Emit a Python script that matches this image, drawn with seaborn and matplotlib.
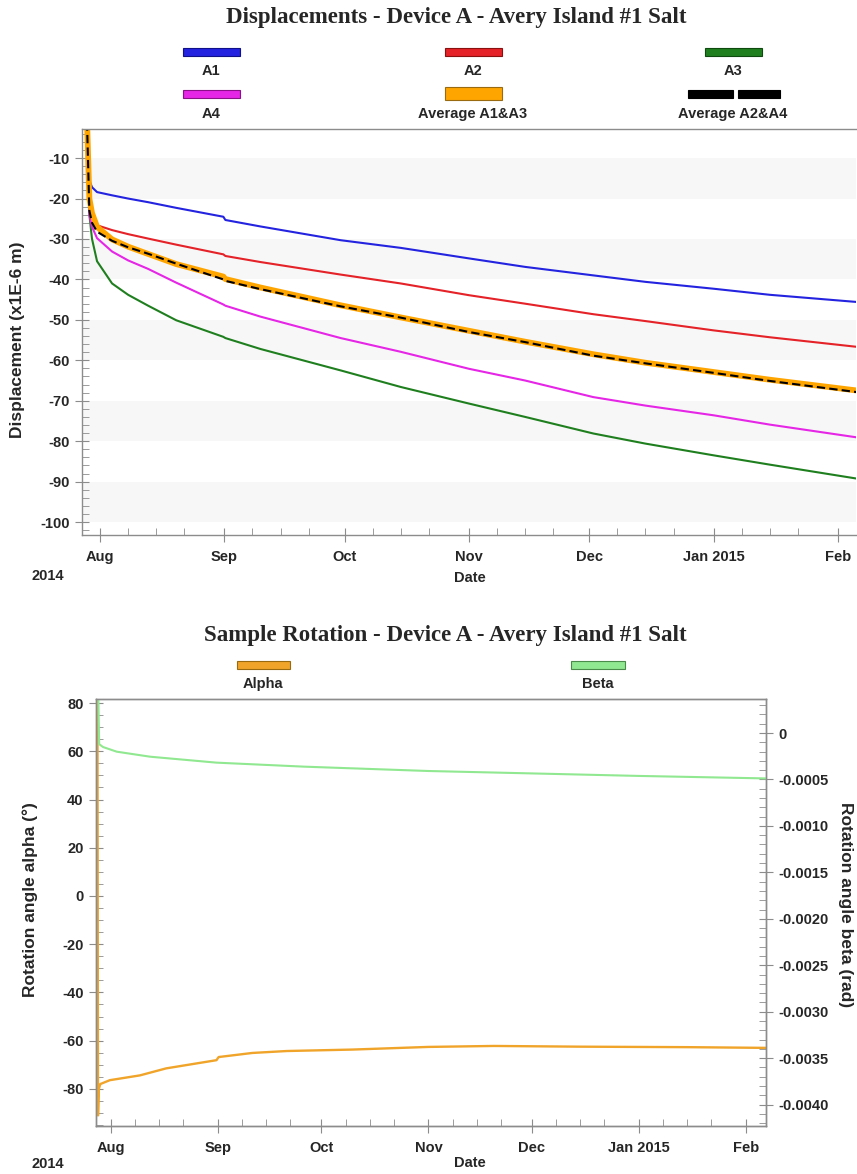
import pandas as pd
import matplotlib.pyplot as plt
import matplotlib.dates as mdates
from matplotlib.ticker import MultipleLocator, FuncFormatter
from matplotlib.patches import Rectangle
import seaborn as sns

# ---- data: displacements (x1E-6 m) ----
t_disp = pd.to_datetime([
    "2014-07-28 14:00", "2014-07-29 08:00", "2014-07-30 00:00", "2014-07-31 06:00",
    "2014-08-04 00:00", "2014-08-08 00:00", "2014-08-13 00:00", "2014-08-20 00:00",
    "2014-08-31 18:00", "2014-09-01 06:00", "2014-09-10 00:00", "2014-09-30 00:00",
    "2014-10-15 00:00", "2014-11-01 00:00", "2014-11-15 00:00", "2014-12-02 00:00",
    "2014-12-15 00:00", "2015-01-01 00:00", "2015-01-15 00:00", "2015-02-06 00:00",
], format='ISO8601')
a1 = [5, -15.5, -17.2, -18.4, -19.2, -20.0, -20.9, -22.3, -24.5, -25.3,
      -26.9, -30.3, -32.2, -34.8, -36.9, -39.0, -40.6, -42.3, -43.8, -45.6]
a2 = [5, -22.0, -25.0, -26.6, -27.8, -28.8, -29.9, -31.4, -33.8, -34.2,
      -35.7, -38.8, -41.0, -43.9, -46.0, -48.6, -50.3, -52.6, -54.3, -56.7]
a3 = [5, -24.0, -30.0, -35.5, -41.0, -43.8, -46.5, -50.1, -54.2, -54.5,
      -57.2, -62.5, -66.6, -70.7, -74.0, -78.1, -80.6, -83.5, -85.8, -89.3]
a4 = [5, -24.0, -27.0, -29.8, -33.1, -35.3, -37.4, -40.8, -46.2, -46.5,
      -49.2, -54.5, -57.9, -62.1, -65.0, -69.1, -71.2, -73.6, -75.9, -79.1]
avg13 = [5, -20.0, -23.6, -27.0, -30.1, -31.9, -33.7, -36.2, -39.3, -39.9,
         -42.0, -46.4, -49.4, -52.7, -55.4, -58.5, -60.6, -62.9, -64.8, -67.5]
avg24 = [5, -23.0, -26.0, -28.2, -30.45, -32.05, -33.65, -36.1, -40.0, -40.35,
         -42.4, -46.65, -49.45, -53.0, -55.5, -58.85, -60.75, -63.1, -65.1, -67.9]

# ---- data: rotation ----
t_alpha = pd.to_datetime([
    "2014-07-28 02:00", "2014-07-28 06:00", "2014-07-28 12:00", "2014-07-28 22:00",
    "2014-07-31 16:00", "2014-08-09 10:00", "2014-08-17 00:00", "2014-08-31 14:00",
    "2014-09-01 05:00", "2014-09-11 00:00", "2014-09-21 00:00", "2014-10-10 00:00",
    "2014-11-01 00:00", "2014-11-20 00:00", "2014-12-15 00:00", "2015-01-15 00:00",
    "2015-02-07 00:00",
], format='ISO8601')
alpha = [85, -91, -80, -78, -76.4, -74.4, -71.5, -68.1, -66.8, -65.1,
         -64.3, -63.7, -62.6, -62.2, -62.5, -62.7, -63.0]

t_beta = pd.to_datetime([
    "2014-07-28 07:00", "2014-07-28 14:00", "2014-07-29 17:00", "2014-08-02 16:00",
    "2014-08-12 08:00", "2014-08-31 14:00", "2014-09-25 20:00", "2014-11-01 00:00",
    "2014-12-01 00:00", "2015-01-01 00:00", "2015-02-07 00:00",
], format='ISO8601')
beta = [0.0005, -0.00012, -0.000151, -0.000201, -0.000255, -0.000319,
        -0.000362, -0.000409, -0.000435, -0.000462, -0.000489]

c_a1, c_a2, c_a3, c_a4 = "#2424e0", "#e42228", "#1f7f1f", "#e626e6"
c_avg = "#ffa500"
c_alpha, c_beta = "#f0a42a", "#90e890"
grey = "#8c8c8c"

sns.set_style("ticks")
plt.rcParams['font.family'] = ['Liberation Sans', 'DejaVu Sans']
plt.rcParams['font.weight'] = 'bold'
plt.rcParams['axes.unicode_minus'] = False

W, H = 857, 1174
fig = plt.figure(figsize=(W / 100, H / 100), dpi=100)


def fx(px):
    return px / W


def fy(py):
    return 1 - py / H


def style_axes(ax):
    for s in ax.spines.values():
        s.set_color(grey)
        s.set_linewidth(1)
    ax.tick_params(which='major', direction='inout', length=10, color=grey,
                   labelsize=10.5, pad=4)
    ax.tick_params(axis='x', which='major', pad=6)
    ax.tick_params(which='minor', direction='in', length=5, color=grey)
    ax.xaxis.set_major_locator(mdates.MonthLocator())
    ax.xaxis.set_minor_locator(mdates.DayLocator(bymonthday=[8, 15, 22]))

    def fmt(x, pos):
        d = mdates.num2date(x)
        return d.strftime('%b %Y') if d.month == 1 else d.strftime('%b')
    ax.xaxis.set_major_formatter(FuncFormatter(fmt))
    for lab in ax.get_xticklabels() + ax.get_yticklabels():
        lab.set_fontweight('bold')
    ax.set_xlabel('')
    ax.set_ylabel('')


# ---------------- top chart ----------------
ax1 = fig.add_axes([fx(82), fy(535), fx(856 - 82), (535 - 129) / H])
for lo in [-100, -80, -60, -40, -20]:
    ax1.axhspan(lo, lo + 10, color="#f7f7f7", zorder=0, lw=0)

sns.lineplot(x=t_disp, y=a1, ax=ax1, color=c_a1, lw=1.5)
sns.lineplot(x=t_disp, y=a2, ax=ax1, color=c_a2, lw=1.5)
sns.lineplot(x=t_disp, y=a3, ax=ax1, color=c_a3, lw=1.5)
sns.lineplot(x=t_disp, y=a4, ax=ax1, color=c_a4, lw=1.5)
sns.lineplot(x=t_disp, y=avg13, ax=ax1, color=c_avg, lw=4.2)
sns.lineplot(x=t_disp, y=avg24, ax=ax1, color="black", lw=1.5,
             linestyle=(0, (4, 2)))

ax1.set_xlim(pd.Timestamp("2014-07-27 12:00"), pd.Timestamp("2015-02-05 12:00"))
ax1.set_ylim(-103.2, -2.8)
ax1.set_yticks(range(-100, 0, 10))
ax1.yaxis.set_minor_locator(MultipleLocator(2))
style_axes(ax1)
ax1.spines['right'].set_visible(False)

# ---------------- bottom chart ----------------
ax2 = fig.add_axes([fx(96), fy(1126), fx(766 - 96), (1126 - 699) / H])
ax2r = ax2.twinx()
sns.lineplot(x=t_alpha, y=alpha, ax=ax2, color=c_alpha, lw=1.7)
sns.lineplot(x=t_beta, y=beta, ax=ax2r, color=c_beta, lw=1.5)

ax2.set_xlim(pd.Timestamp("2014-07-27 16:00"), pd.Timestamp("2015-02-06 20:00"))
ax2.set_ylim(-95.4, 81.7)
ax2.set_yticks(range(-80, 81, 20))
ax2.yaxis.set_minor_locator(MultipleLocator(5))
ax2r.set_ylim(-0.00423, 0.000366)
ax2r.set_yticks([-0.004 + 0.0005 * i for i in range(9)])
ax2r.yaxis.set_minor_locator(MultipleLocator(0.0001))
ax2r.yaxis.set_major_formatter(
    FuncFormatter(lambda v, p: "0" if abs(v) < 1e-9 else f"{v:.4f}"))
style_axes(ax2)
style_axes(ax2r)

# ---------------- titles, labels, legends ----------------
title_kw = dict(ha='center', va='center', fontsize=16.5, fontweight='bold',
                family=['Liberation Serif', 'DejaVu Serif'])
fig.text(fx(456), fy(18), "Displacements - Device A - Avery Island #1 Salt", **title_kw)
fig.text(fx(445), fy(635), "Sample Rotation - Device A - Avery Island #1 Salt", **title_kw)

lab_kw = dict(ha='center', va='center', fontsize=10.5, fontweight='bold')
vlab_kw = dict(ha='center', va='center', fontsize=12.5, fontweight='bold')
fig.text(fx(18), fy(340), "Displacement (x1E-6 m)", rotation=90, **vlab_kw)
fig.text(fx(470), fy(578), "Date", **lab_kw)
fig.text(fx(48), fy(576), "2014", **lab_kw)
fig.text(fx(30), fy(900), "Rotation angle alpha (°)", rotation=90, **vlab_kw)
fig.text(fx(845), fy(905), "Rotation angle beta (rad)", rotation=270, **vlab_kw)
fig.text(fx(470), fy(1163), "Date", **lab_kw)
fig.text(fx(48), fy(1164), "2014", **lab_kw)


def swatch(x0, x1, y0, y1, fc, ec):
    fig.add_artist(Rectangle((fx(x0), fy(y1)), fx(x1 - x0), (y1 - y0) / H,
                             transform=fig.transFigure, fc=fc, ec=ec, lw=0.8))


swatch(183, 240, 48, 56, c_a1, "#10108a")
swatch(445, 502, 48, 56, c_a2, "#8a1010")
swatch(705, 762, 48, 56, c_a3, "#0e4a0e")
swatch(183, 240, 90, 98, c_a4, "#8a108a")
swatch(445, 502, 87, 100, c_avg, "#9a6a10")
swatch(688, 733, 90, 98, "black", "black")
swatch(738, 780, 90, 98, "black", "black")
fig.text(fx(211), fy(71), "A1", **lab_kw)
fig.text(fx(473), fy(71), "A2", **lab_kw)
fig.text(fx(733), fy(71), "A3", **lab_kw)
fig.text(fx(211), fy(114), "A4", **lab_kw)
fig.text(fx(473), fy(114), "Average A1&A3", **lab_kw)
fig.text(fx(733), fy(114), "Average A2&A4", **lab_kw)

swatch(237, 290, 661, 669, c_alpha, "#9a6a10")
swatch(571, 625, 661, 669, c_beta, "#4a8a4a")
fig.text(fx(263), fy(684), "Alpha", **lab_kw)
fig.text(fx(598), fy(684), "Beta", **lab_kw)

fig.savefig("out.png", dpi=100)
